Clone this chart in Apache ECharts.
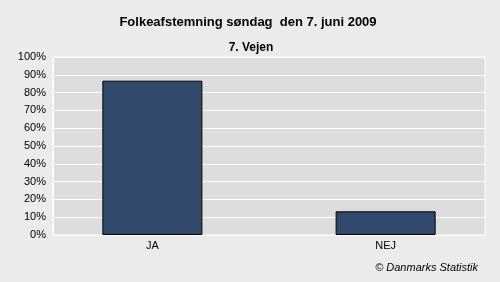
<!DOCTYPE html>
<html>
<head>
<meta charset="utf-8">
<script src="https://cdn.jsdelivr.net/npm/echarts@6/dist/echarts.min.js"></script>
<style>html,body{margin:0;padding:0;background:#ebebeb;}#c{width:500px;height:282px;}</style>
</head>
<body>
<div id="c"></div>
<script>
const categories = ['JA', 'NEJ'];
const values = [86.7, 13.3];
const yTicks = [0, 10, 20, 30, 40, 50, 60, 70, 80, 90, 100];

const chart = echarts.init(document.getElementById('c'), null, {renderer: 'canvas'});
const font = 'Liberation Sans, Arial, sans-serif';
chart.setOption({
  backgroundColor: '#ebebeb',
  animation: false,
  title: [
    {text: 'Folkeafstemning søndag  den 7. juni 2009', left: 243, top: 11, textAlign: 'center',
     textStyle: {fontFamily: font, fontSize: 13, fontWeight: 'bold', color: '#000'}},
    {text: '7. Vejen', left: 246, top: 37, textAlign: 'center',
     textStyle: {fontFamily: font, fontSize: 12, fontWeight: 'bold', color: '#000'}},
    {text: '© Danmarks Statistik', right: 17, top: 257,
     textStyle: {fontFamily: font, fontSize: 11, fontStyle: 'italic', fontWeight: 'normal', color: '#000'}}
  ],
  grid: {left: 53, right: 15, top: 57, bottom: 47, show: true, backgroundColor: '#dddddd', borderColor: '#ffffff', borderWidth: 1},
  xAxis: {
    type: 'value', min: -0.426, max: 1.426,
    splitLine: {show: false},
    axisLine: {show: true, onZero: false, lineStyle: {color: '#ffffff'}},
    axisTick: {show: false},
    axisLabel: {customValues: [0, 1], formatter: v => categories[Math.round(v)] || '', color: '#000',
      fontFamily: font, fontSize: 11, margin: 5}
  },
  yAxis: {
    type: 'value', min: 0, max: 100, interval: 10,
    splitLine: {show: true, lineStyle: {color: '#ffffff', width: 1}},
    axisLine: {show: true, onZero: false, lineStyle: {color: '#ffffff'}},
    axisTick: {show: false},
    axisLabel: {formatter: v => yTicks.includes(v) ? v + '%' : '', color: '#000', fontFamily: font, fontSize: 11, margin: 7}
  },
  series: [{
    type: 'bar',
    barWidth: 100,
    data: values.map((v, i) => [i, v]),
    itemStyle: {color: '#314a6b', borderColor: '#000', borderWidth: 1}
  }]
});
</script>
</body>
</html>
